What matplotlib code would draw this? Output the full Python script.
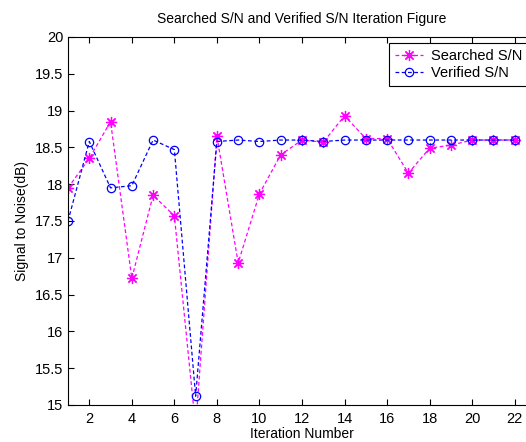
import matplotlib
matplotlib.use("Agg")
import matplotlib.pyplot as plt

iterations = list(range(1, 23))
searched = [17.95, 18.35, 18.85, 16.72, 17.85, 17.57, 14.7, 18.65, 16.93, 17.87, 18.40,
            18.60, 18.57, 18.93, 18.62, 18.62, 18.15, 18.49, 18.53, 18.60, 18.60, 18.60]
verified = [17.50, 18.58, 17.95, 17.98, 18.60, 18.47, 15.12, 18.58, 18.60, 18.58, 18.60,
            18.60, 18.58, 18.60, 18.60, 18.60, 18.60, 18.60, 18.60, 18.60, 18.60, 18.60]
xticks = list(range(2, 23, 2))
yticks = [15, 15.5, 16, 16.5, 17, 17.5, 18, 18.5, 19, 19.5, 20]

plt.rcParams['font.family'] = ['Liberation Sans', 'DejaVu Sans']

W, H = 526, 442
fig = plt.figure(figsize=(W / 100, H / 100), dpi=100)
left, right, top, bottom = 68, 536, 37, 405
ax = fig.add_axes([left / W, 1 - bottom / H, (right - left) / W, (bottom - top) / H])

ax.plot(iterations, searched, color='#ff00ff', linestyle='--', dashes=(3, 2), lw=0.9,
        marker=(8, 2, 0), markersize=8, markeredgewidth=0.9, label='Searched S/N')
ax.plot(iterations, verified, color='#0000ff', linestyle='--', dashes=(3, 2), lw=0.9,
        marker='o', markersize=6, markerfacecolor='none', markeredgewidth=0.9,
        label='Verified S/N')

ax.set_xlim(1, 23)
ax.set_ylim(15, 20)
ax.set_xticks(xticks)
ax.set_yticks(yticks)
ax.set_yticklabels([('%g' % v) for v in yticks])
ax.tick_params(direction='in', top=True, right=True, labelsize=10.5, length=4, width=0.8)
ax.tick_params(axis='x', pad=5)
for s in ax.spines.values():
    s.set_linewidth(0.8)

ax.set_title('Searched S/N and Verified S/N Iteration Figure', fontsize=10, pad=10)
ax.set_xlabel('Iteration Number', fontsize=10, labelpad=1)
ax.set_ylabel('Signal to Noise(dB)', fontsize=10, labelpad=4)

leg = ax.legend(loc='upper left', bbox_to_anchor=(389 / W, 1 - 43 / H),
                bbox_transform=fig.transFigure, fontsize=10.5, frameon=True,
                fancybox=False, edgecolor='black', framealpha=1, borderpad=0.4,
                labelspacing=0.25, handlelength=1.9, handletextpad=0.6, borderaxespad=0)
leg.get_frame().set_linewidth(0.8)

fig.savefig('out.png', dpi=100)
